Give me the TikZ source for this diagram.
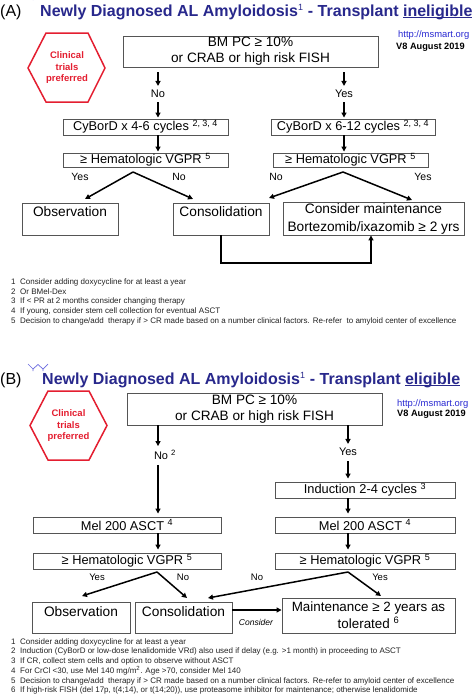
\documentclass[tikz,border=0pt]{standalone}
\usepackage{fontspec}
\setmainfont{Liberation Sans}
\usetikzlibrary{arrows.meta,calc}
\definecolor{ttl}{RGB}{40,40,140}
\definecolor{hexred}{RGB}{228,30,48}
\definecolor{urlc}{RGB}{40,40,210}
\definecolor{boxgray}{RGB}{85,85,85}
\definecolor{fn}{RGB}{35,35,35}
\newcommand\myul[1]{\setbox0\hbox{#1}\rlap{\rule[-1.8pt]{\wd0}{1pt}}\box0}
\begin{document}
\begin{tikzpicture}[x=1pt,y=-1pt,
 box/.style={draw=boxgray,line width=0.9pt,inner sep=0pt,align=center,font=\fontsize{13.6}{16}\selectfont},
 tbox/.style={box,font=\fontsize{13.7}{18}\selectfont},
 sbox/.style={box,font=\fontsize{12.8}{14}\selectfont},
 arr/.style={-{Triangle[length=5pt,width=5pt]},line width=1.5pt},
 lbl/.style={font=\fontsize{11}{12}\selectfont,inner sep=0pt},
 slbl/.style={font=\fontsize{9.5}{11}\selectfont,inner sep=0pt},
 hexa/.style={draw=hexred,line width=1.5pt},
 hextext/.style={text=hexred,font=\bfseries\fontsize{9.5}{11.5}\selectfont,align=center,inner sep=0pt},
 fnote/.style={font=\fontsize{8}{9}\selectfont,text=fn,anchor=west,inner sep=0pt},
 ttlstyle/.style={anchor=base west,inner sep=0pt,text=ttl,font=\bfseries\fontsize{16}{18}\selectfont},
 urlstyle/.style={anchor=base west,inner sep=0pt,text=urlc,font=\fontsize{9.4}{10}\selectfont},
 verstyle/.style={anchor=base west,inner sep=0pt,font=\bfseries\fontsize{9.2}{10}\selectfont},
 ]
\useasboundingbox[fill=white] (0,0) rectangle (474,699);

%%%%%%%%%%%%%%%% Panel A %%%%%%%%%%%%%%%%
\node[anchor=base west,inner sep=0pt,font=\fontsize{16}{18}\selectfont] (labA) at (0,16.5) {(A)};
\node[ttlstyle] (titleA) at (40,16.5) {Newly Diagnosed AL Amyloidosis\textsuperscript{\normalfont\fontsize{9}{9}\selectfont 1} - Transplant \myul{ineligible}};
\draw[urlc!70,line width=0.7pt] (33,0) arc[start angle=180,end angle=300,radius=4];

\node[urlstyle] (urlA) at (398,37) {http://msmart.org};
\node[verstyle] (verA) at (396,49) {V8 August 2019};

\node[hextext] (hexA) at (67,68) {Clinical\\trials\\preferred};
\draw[hexa] (28,68) -- (46,33) -- (88,33) -- (105,68) -- (88,102) -- (46,102) -- cycle;

\node[box,minimum width=255pt,minimum height=31pt] (topA) at (250.5,51.5) {BM PC ≥ 10\%\\or CRAB or high risk FISH};

\node[lbl] (noA) at (158,94) {No};
\node[lbl] (yesA) at (344,94) {Yes};

\node[sbox,minimum width=165pt,minimum height=16pt] (cybL) at (145.5,127) {CyBorD x 4-6 cycles \textsuperscript{2, 3, 4}};
\node[sbox,minimum width=164pt,minimum height=16pt] (cybR) at (353,127) {CyBorD x 6-12 cycles \textsuperscript{2, 3, 4}};
\node[sbox,minimum width=165pt,minimum height=14pt] (vgL) at (145.5,160) {≥ Hematologic VGPR \textsuperscript{5}};
\node[sbox,minimum width=155pt,minimum height=14pt] (vgR) at (350.5,160) {≥ Hematologic VGPR \textsuperscript{5}};

\draw[arr,shorten <=5pt,shorten >=4pt] (topA.south -| noA) -- (noA.north);
\draw[arr,shorten <=4pt,shorten >=1pt] (noA.south) -- (cybL.north -| noA);
\draw[arr,shorten <=5pt,shorten >=4pt] (topA.south -| yesA) -- (yesA.north);
\draw[arr,shorten <=4pt,shorten >=1pt] (yesA.south) -- (cybR.north -| yesA);
\draw[arr,shorten >=1pt] (cybL.south -| noA) -- (vgL.north -| noA);
\draw[arr,shorten >=1pt] (cybR.south -| yesA) -- (vgR.north -| yesA);

\node[tbox,text height=10pt,text depth=16pt,minimum width=96pt,minimum height=32pt] (obsA) at (70,219) {Observation};
\node[tbox,text height=10pt,text depth=16pt,minimum width=96pt,minimum height=32pt] (consA) at (221,219) {Consolidation};
\node[tbox,minimum width=181pt,minimum height=33pt] (maintA) at (373.5,218.5) {Consider maintenance\\Bortezomib/ixazomib ≥ 2 yrs};

\node[slbl,font=\fontsize{10.5}{12}\selectfont] (yA1) at (80,177) {Yes};
\node[slbl,font=\fontsize{10.5}{12}\selectfont] (nA1) at (179,177) {No};
\node[slbl,font=\fontsize{10.5}{12}\selectfont] (nA2) at (276,177) {No};
\node[slbl,font=\fontsize{10.5}{12}\selectfont] (yA2) at (423,177) {Yes};

\coordinate (apAL) at (133,172);
\coordinate (tObsA) at (85,199);
\coordinate (tConsA1) at (193,199);
\coordinate (apAR) at (343,172);
\coordinate (tConsA2) at (269,198);
\coordinate (tMaintA) at (412,200);
\draw[arr] (apAL) -- (tObsA);
\draw[arr] (apAL) -- (tConsA1);
\draw[arr] (apAR) -- (tConsA2);
\draw[arr] (apAR) -- (tMaintA);

\coordinate (jA) at (371,263);
\draw[arr] (consA.south) |- (jA) -- (jA |- maintA.south);

\node[fnote] (fa1) at (11,282) {\makebox[9pt][l]{1}Consider adding doxycycline for at least a year};
\node[fnote] (fa2) at (11,292) {\makebox[9pt][l]{2}Or BMel-Dex};
\node[fnote] (fa3) at (11,301.5) {\makebox[9pt][l]{3}If < PR at 2 months consider changing therapy};
\node[fnote] (fa4) at (11,311) {\makebox[9pt][l]{4}If young, consider stem cell collection for eventual ASCT};
\node[fnote] (fa5) at (11,321) {\makebox[9pt][l]{5}Decision to change/add\ \ therapy if > CR made based on a number clinical factors. Re-refer\ \ to amyloid center of excellence};

%%%%%%%%%%%%%%%% Panel B %%%%%%%%%%%%%%%%
\node[anchor=base west,inner sep=0pt,font=\fontsize{16}{18}\selectfont] (labB) at (0,384.5) {(B)};
\node[ttlstyle] (titleB) at (42,384.5) {Newly Diagnosed AL Amyloidosis\textsuperscript{\normalfont\fontsize{9}{9}\selectfont 1} - Transplant \myul{eligible}};
\draw[urlc!70,line width=0.7pt] (28,364) -- (33,369) -- (38,364.5) (33,369) -- (33,371)
  (38,364.5) -- (43,369) -- (48,364) (43,369) -- (43,371);

\node[urlstyle] (urlB) at (397,406) {http://msmart.org};
\node[verstyle] (verB) at (397,416.5) {V8 August 2019};

\node[hextext] (hexB) at (68.5,426) {Clinical\\trials\\preferred};
\draw[hexa] (30,425.5) -- (48,391) -- (89,391) -- (107,425.5) -- (89,460) -- (48,460) -- cycle;

\node[box,minimum width=255pt,minimum height=32pt] (topB) at (254.5,409) {BM PC ≥ 10\%\\or CRAB or high risk FISH};

\node[lbl] (noB) at (165,455) {No \textsuperscript{2}};
\node[lbl] (yesB) at (348,452) {Yes};
\coordinate (xL) at (158,455);

\node[sbox,minimum width=180pt,minimum height=16pt] (indB) at (365,490) {Induction 2-4 cycles \textsuperscript{3}};
\node[sbox,minimum width=188pt,minimum height=16pt] (melL) at (127,525) {Mel 200 ASCT \textsuperscript{4}};
\node[sbox,minimum width=180pt,minimum height=16pt] (melR) at (365,525) {Mel 200 ASCT \textsuperscript{4}};
\node[sbox,minimum width=188pt,minimum height=16pt] (vgBL) at (127,561) {≥ Hematologic VGPR \textsuperscript{5}};
\node[sbox,minimum width=180pt,minimum height=16pt] (vgBR) at (365,561) {≥ Hematologic VGPR \textsuperscript{5}};

\draw[arr,shorten >=4pt] (topB.south -| xL) -- (noB.north -| xL);
\draw[arr,shorten <=5pt,shorten >=3pt] (noB.south -| xL) -- (melL.north -| xL);
\draw[arr,shorten >=4pt] (topB.south -| yesB) -- (yesB.north);
\draw[arr,shorten <=5pt,shorten >=3pt] (yesB.south) -- (indB.north -| yesB);
\draw[arr,shorten >=3pt] (indB.south -| yesB) -- (melR.north -| yesB);
\draw[arr,shorten >=3pt] (melL.south -| xL) -- (vgBL.north -| xL);
\draw[arr,shorten >=3pt] (melR.south -| yesB) -- (vgBR.north -| yesB);

\node[tbox,text height=10pt,text depth=13pt,minimum width=98pt,minimum height=31pt] (obsB) at (81,617.5) {Observation};
\node[tbox,text height=10pt,text depth=13pt,minimum width=97pt,minimum height=31pt] (consB) at (183.5,617.5) {Consolidation};
\node[tbox,font=\fontsize{13.4}{17}\selectfont,minimum width=173pt,minimum height=35pt] (maintB) at (368.5,615.5) {Maintenance ≥ 2 years as\\tolerated \textsuperscript{6}};

\node[slbl] (yB1) at (97,577) {Yes};
\node[slbl] (nB1) at (183,577) {No};
\node[slbl] (nB2) at (257,577) {No};
\node[slbl] (yB2) at (380,577) {Yes};

\coordinate (apBL) at (157,572);
\coordinate (tObsB) at (82,596);
\coordinate (tConsB1) at (187,598);
\coordinate (apBR) at (348,572);
\coordinate (tConsB2) at (208,598);
\coordinate (tMaintB) at (381,596);
\draw[arr] (apBL) -- (tObsB);
\draw[arr] (apBL) -- (tConsB1);
\draw[arr] (apBR) -- (tConsB2);
\draw[arr] (apBR) -- (tMaintB);

\coordinate (cy) at (0,610);
\draw[arr] (consB.east |- cy) -- (maintB.west |- cy);
\node[inner sep=0pt,font=\itshape\fontsize{8.5}{10}\selectfont] (consider) at (256,622.5) {Consider};

\node[fnote] (fb1) at (11,642) {\makebox[9pt][l]{1}Consider adding doxycycline for at least a year};
\node[fnote] (fb2) at (11,651.5) {\makebox[9pt][l]{2}Induction (CyBorD or low-dose lenalidomide VRd) also used if delay (e.g. >1 month) in proceeding to ASCT};
\node[fnote] (fb3) at (11,661) {\makebox[9pt][l]{3}If CR, collect stem cells and option to observe without ASCT};
\node[fnote] (fb4) at (11,671) {\makebox[9pt][l]{4}For CrCl <30, use Mel 140 mg/m\textsuperscript{2}. Age >70, consider Mel 140};
\node[fnote] (fb5) at (11,681) {\makebox[9pt][l]{5}Decision to change/add\ \ therapy if > CR made based on a number clinical factors. Re-refer to amyloid center of excellence};
\node[fnote] (fb6) at (11,690.5) {\makebox[9pt][l]{6}If high-risk FISH (del 17p, t(4;14), or t(14;20)), use proteasome inhibitor for maintenance; otherwise lenalidomide};
\end{tikzpicture}
\end{document}
